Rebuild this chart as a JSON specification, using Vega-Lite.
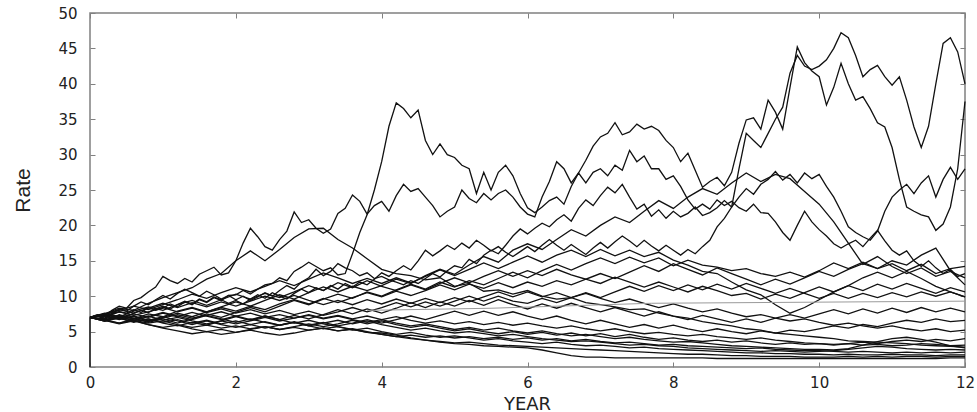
{
"$schema": "https://vega.github.io/schema/vega-lite/v6.json",
"width": 875,
"height": 354,
"autosize": {"type": "none"},
"padding": {"left": 90, "top": 13, "right": 12, "bottom": 45},
"background": "white",
"config": {
  "view": {"stroke": "#808080", "strokeWidth": 1.5},
  "axis": {"grid": false, "domain": false, "tickColor": "#808080", "tickWidth": 1, "labelFont": "DejaVu Sans", "labelFontSize": 15, "labelColor": "#222222", "titleColor": "#222222", "titleFontWeight": "normal"}
},
"layer": [
  {
    "data": {"values": [
      {"p": "s0", "t": [0, 0], "v": [0, 7]},
      {"p": "l1", "t": [0,0.2,0.4,0.6,0.8,1,1.2,1.4,1.6,1.8,2,2.2,2.4,2.6,2.8,3,3.2,3.4,3.6,3.8,4,4.2,4.4,4.6,4.8,5,5.2,5.4,5.6,5.8,6,6.2,6.4,6.6,6.8,7,7.2,7.4,7.6,7.8,8,8.2,8.4,8.6,8.8,9,9.2,9.4,9.6,9.8,10,10.2,10.4,10.6,10.8,11,11.2,11.4,11.6,11.8,12],
       "v": [7,6.5,6.9,6.3,6.8, 6.2,5.8,6.3,5.9,6.5, 7.1,6.6,7.2,6.7,7.3, 6.8,7.4,8.1,7.5,8.2, 7.6,8.3,9.1,8.4,9.2, 8.6,9.4,8.7,9.5,8.8, 8.2,8.9,8.3,9,8.4, 7.8,8.4,7.8,7.2,7.8, 7.2,6.7,7.3,6.8,6.3, 6.8,6.3,6.9,7.4,6.9, 7.5,8.1,7.5,8.2,7.6, 8.3,7.7,8.4,7.8,8.3, 7.8]},
      {"p": "l2", "t": [0,0.2,0.4,0.6,0.8,1,1.2,1.4,1.6,1.8,2,2.2,2.4,2.6,2.8,3,3.2,3.4,3.6,3.8,4,4.2,4.4,4.6,4.8,5,5.2,5.4,5.6,5.8,6,6.2,6.4,6.6,6.8,7,7.2,7.4,7.6,7.8,8,8.2,8.4,8.6,8.8,9,9.2,9.4,9.6,9.8,10,10.2,10.4,10.6,10.8,11,11.2,11.4,11.6,11.8,12],
       "v": [7,7.3,6.8,7.2,6.6, 7.1,6.5,6,6.5,6, 5.6,6,5.5,5.9,6.4, 5.9,6.3,5.8,6.2,6.7, 6.2,6.7,7.2,6.7,7.3, 7.9,7.3,7.9,7.3,7.8, 7.2,6.7,7.2,6.6,6.1, 6.6,6.1,5.6,6,5.5, 5.9,5.4,5,5.4,5, 4.7,5.1,4.8,5.2,5, 5.4,5.8,5.5,6,5.7, 6.2,6.6,6.3,6.8,6.4, 6.6]},
      {"p": "l3", "t": [0,0.2,0.4,0.6,0.8,1,1.2,1.4,1.6,1.8,2,2.2,2.4,2.6,2.8,3,3.2,3.4,3.6,3.8,4,4.2,4.4,4.6,4.8,5,5.2,5.4,5.6,5.8,6,6.2,6.4,6.6,6.8,7,7.2,7.4,7.6,7.8,8,8.2,8.4,8.6,8.8,9,9.2,9.4,9.6,9.8,10,10.2,10.4,10.6,10.8,11,11.2,11.4,11.6,11.8,12],
       "v": [7,6.6,6.2,6.6,6, 5.6,5.9,5.4,5,5.3, 4.9,5.2,4.8,4.5,4.8, 5.2,5.5,5.1,5.3,4.9, 4.8,4.5,4.1,3.8,3.5, 3.3,3.2,3,2.9,2.8, 2.7,2.4,2,1.6,1.4, 1.4,1.3,1.3,1.3,1.3, 1.3,1.3,1.3,1.2,1.2, 1.2,1.2,1.2,1.2,1.2, 1.2,1.2,1.2,1.2,1.2, 1.2,1.2,1.2,1.2,1.3, 1.3]},
      {"p": "l4", "t": [0,0.2,0.4,0.6,0.8,1,1.2,1.4,1.6,1.8,2,2.2,2.4,2.6,2.8,3,3.2,3.4,3.6,3.8,4,4.2,4.4,4.6,4.8,5,5.2,5.4,5.6,5.8,6,6.2,6.4,6.6,6.8,7,7.2,7.4,7.6,7.8,8,8.2,8.4,8.6,8.8,9,9.2,9.4,9.6,9.8,10,10.2,10.4,10.6,10.8,11,11.2,11.4,11.6,11.8,12],
       "v": [7,7.4,6.9,6.4,6.8, 6.3,6.7,6.2,6.6,6.1, 6.5,6,6.4,5.9,6.3, 5.8,5.4,5.7,5.2,5.5, 5,4.6,4.9,4.5,4.2, 4.4,4.1,3.8,4,3.7, 3.5,3.3,3.5,3.2,3, 3.1,2.9,2.7,2.8,2.6, 2.5,2.4,2.3,2.2,2.1, 2,2,1.9,1.9,1.8, 1.8,1.7,1.8,1.7,1.7, 1.8,1.7,1.7,1.6,1.7, 1.7]},
      {"p": "l5", "t": [0,0.2,0.4,0.6,0.8,1,1.2,1.4,1.6,1.8,2,2.2,2.4,2.6,2.8,3,3.2,3.4,3.6,3.8,4,4.2,4.4,4.6,4.8,5,5.2,5.4,5.6,5.8,6,6.2,6.4,6.6,6.8,7,7.2,7.4,7.6,7.8,8,8.2,8.4,8.6,8.8,9,9.2,9.4,9.6,9.8,10,10.2,10.4,10.6,10.8,11,11.2,11.4,11.6,11.8,12],
       "v": [7,6.5,7,7.5,7, 7.6,7.1,7.7,7.2,6.7, 7.2,6.7,7.2,6.7,6.2, 6.6,6.1,5.7,5.3,4.9, 4.6,4.3,4.5,4.2,4.4, 4.1,4.3,4,4.2,3.9, 4.1,3.8,4,3.7,3.9, 3.6,3.4,3.5,3.3,3.1, 3.2,3,2.9,2.8,2.7, 2.6,2.7,2.5,2.4,2.3, 2.3,2.2,2.1,2.2,2.1, 2,2.1,2,2.1,2, 2.1]},
      {"p": "l6", "t": [0,0.2,0.4,0.6,0.8,1,1.2,1.4,1.6,1.8,2,2.2,2.4,2.6,2.8,3,3.2,3.4,3.6,3.8,4,4.2,4.4,4.6,4.8,5,5.2,5.4,5.6,5.8,6,6.2,6.4,6.6,6.8,7,7.2,7.4,7.6,7.8,8,8.2,8.4,8.6,8.8,9,9.2,9.4,9.6,9.8,10,10.2,10.4,10.6,10.8,11,11.2,11.4,11.6,11.8,12],
       "v": [7,7.2,6.7,7.1,6.5, 6.9,7.4,6.9,7.3,7.8, 7.2,7.6,7,7.4,6.9, 7.3,6.8,7.2,6.7,6.3, 6.7,6.2,5.8,6.1,5.7, 5.3,5.6,5.2,5.5,5.1, 4.8,5.1,4.7,4.4,4.6, 4.3,4,4.2,3.9,3.7, 3.5,3.6,3.4,3.2,3, 2.9,2.8,2.7,2.6,2.5, 2.5,2.4,2.6,3.1,3.6, 4,4.2,3.9,3.5,3, 2.7]},
      {"p": "l7", "t": [0,0.2,0.4,0.6,0.8,1,1.2,1.4,1.6,1.8,2,2.2,2.4,2.6,2.8,3,3.2,3.4,3.6,3.8,4,4.2,4.4,4.6,4.8,5,5.2,5.4,5.6,5.8,6,6.2,6.4,6.6,6.8,7,7.2,7.4,7.6,7.8,8,8.2,8.4,8.6,8.8,9,9.2,9.4,9.6,9.8,10,10.2,10.4,10.6,10.8,11,11.2,11.4,11.6,11.8,12],
       "v": [7,6.8,7.3,6.8,7.2, 6.6,7,6.5,6.1,6.5, 6.1,6.5,7,6.5,6.9, 7.4,6.9,7.3,6.8,7.2, 6.7,7.1,6.6,6.2,6.5, 6.1,6.4,6,6.3,5.9, 6.2,5.8,5.5,5.8,5.4, 5.1,5.4,5,4.7,4.9, 4.6,4.4,4.6,4.3,4.1, 3.9,4.1,3.8,3.6,3.4, 3.3,3.2,3.3,3.1,3.2, 3,3.1,3.3,3.2,3, 3.1]},
      {"p": "l8", "t": [0,0.2,0.4,0.6,0.8,1,1.2,1.4,1.6,1.8,2,2.2,2.4,2.6,2.8,3,3.2,3.4,3.6,3.8,4,4.2,4.4,4.6,4.8,5,5.2,5.4,5.6,5.8,6,6.2,6.4,6.6,6.8,7,7.2,7.4,7.6,7.8,8,8.2,8.4,8.6,8.8,9,9.2,9.4,9.6,9.8,10,10.2,10.4,10.6,10.8,11,11.2,11.4,11.6,11.8,12],
       "v": [7,7.5,8.1,7.6,8.3, 9,8.4,9.1,8.5,9.2, 8.6,9.3,10,9.4,10.1, 9.4,8.8,9.4,8.8,9.5, 8.9,9.6,9,9.7,9.1, 9.8,9.2,9.9,10.6,9.9, 10.6,9.9,10.5,9.8,10.4, 9.7,9.1,9.6,9,8.4, 8.9,8.3,7.8,8.2,7.6, 7.1,7.4,6.9,6.5,6.8, 6.3,5.9,6.2,5.8,5.5, 5.8,5.4,5.1,5.4,5, 5.2]},
      {"p": "l9", "t": [0,0.2,0.4,0.6,0.8,1,1.2,1.4,1.6,1.8,2,2.2,2.4,2.6,2.8,3,3.2,3.4,3.6,3.8,4,4.2,4.4,4.6,4.8,5,5.2,5.4,5.6,5.8,6,6.2,6.4,6.6,6.8,7,7.2,7.4,7.6,7.8,8,8.2,8.4,8.6,8.8,9,9.2,9.4,9.6,9.8,10,10.2,10.4,10.6,10.8,11,11.2,11.4,11.6,11.8,12],
       "v": [7,6.6,6.1,6.5,6, 5.5,5.1,4.7,5,4.6, 4.9,5.3,5.7,5.3,5.7, 6.1,5.7,6.1,6.6,6.1, 6.5,6,5.6,5.9,5.5, 5.1,5.4,5,4.7,5, 4.6,4.9,4.5,4.8,4.4, 4.7,4.3,4.6,4.2,3.9, 4.1,3.8,3.6,3.8,3.5, 3.7,3.4,3.2,3.4,3.2, 3.3,3.1,3.3,3.5,3.3, 3.6,3.8,3.6,3.9,3.7, 4]},
      {"p": "l10", "t": [0,0.2,0.4,0.6,0.8,1,1.2,1.4,1.6,1.8,2,2.2,2.4,2.6,2.8,3,3.2,3.4,3.6,3.8,4,4.2,4.4,4.6,4.8,5,5.2,5.4,5.6,5.8,6,6.2,6.4,6.6,6.8,7,7.2,7.4,7.6,7.8,8,8.2,8.4,8.6,8.8,9,9.2,9.4,9.6,9.8,10,10.2,10.4,10.6,10.8,11,11.2,11.4,11.6,11.8,12],
       "v": [7,7.3,7.8,7.3,7.8, 8.4,7.8,8.3,7.7,8.2, 7.6,8.1,7.5,8,7.4, 7.9,7.3,7.8,8.4,7.8, 8.4,9.1,8.5,9.2,8.6, 9.3,10,9.3,10,9.3, 9,9.7,9.1,9.8,10.5, 9.8,10.6,11.4,10.7,11.5, 10.8,11.6,10.9,11.7,11, 11.8,11.1,10.4,11.1,10.4, 9.7,10.4,9.7,10.4,9.8, 10.5,9.9,10.6,10,10.6, 9.9]},
      {"p": "l11", "t": [0,0.2,0.4,0.6,0.8,1,1.2,1.4,1.6,1.8,2,2.2,2.4,2.6,2.8,3,3.2,3.4,3.6,3.8,4,4.2,4.4,4.6,4.8,5,5.2,5.4,5.6,5.8,6,6.2,6.4,6.6,6.8,7,7.2,7.4,7.6,7.8,8,8.2,8.4,8.6,8.8,9,9.2,9.4,9.6,9.8,10,10.2,10.4,10.6,10.8,11,11.2,11.4,11.6,11.8,12],
       "v": [7,6.7,7.1,6.6,6.2, 6.5,6,5.6,5.9,5.5, 5.8,5.4,5.7,5.3,5.6, 5.2,5.5,5.1,5.4,5, 4.6,4.3,4,3.8,3.6, 3.4,3.5,3.3,3.1,3, 2.9,2.8,2.7,2.6,2.5, 2.4,2.3,2.2,2.1,2, 1.9,1.8,1.8,1.7,1.6, 1.6,1.5,1.5,1.5,1.4, 1.4,1.4,1.5,1.4,1.5, 1.4,1.5,1.5,1.4,1.5, 1.5]},
      {"p": "l12", "t": [0,0.2,0.4,0.6,0.8,1,1.2,1.4,1.6,1.8,2,2.2,2.4,2.6,2.8,3,3.2,3.4,3.6,3.8,4,4.2,4.4,4.6,4.8,5,5.2,5.4,5.6,5.8,6,6.2,6.4,6.6,6.8,7,7.2,7.4,7.6,7.8,8,8.2,8.4,8.6,8.8,9,9.2,9.4,9.6,9.8,10,10.2,10.4,10.6,10.8,11,11.2,11.4,11.6,11.8,12],
       "v": [7,7.5,7,6.6,7.1, 7.7,7.2,6.7,7.3,6.8, 6.3,6.8,6.3,5.9,6.3, 5.8,6.2,6.6,6.1,6.5, 6,5.6,5.2,5.5,5.1, 4.8,5,4.7,4.4,4.6, 4.3,4,3.8,3.6,3.7, 3.5,3.3,3.1,3.2,3, 2.9,2.7,2.6,2.5,2.4, 2.3,2.2,2.3,2.2,2.1, 2.2,2.3,2.5,2.7,2.9, 2.8,2.6,2.5,2.4,2.5, 2.4]},
      {"p": "m1", "t": [0,0.2,0.4,0.6,0.8,1,1.2,1.4,1.6,1.8,2,2.2,2.4,2.6,2.8,3,3.2,3.4,3.6,3.8,4,4.2,4.4,4.6,4.8,5,5.2,5.4,5.6,5.8,6,6.2,6.4,6.6,6.8,7,7.2,7.4,7.6,7.8,8,8.2,8.4,8.6,8.8,9,9.2,9.4,9.6,9.8,10,10.2,10.4,10.6,10.8,11,11.2,11.4,11.6,11.8,12],
       "v": [7,7.6,7.1,7.9,8.5, 8,8.8,9.4,8.7,9.5, 10.3,9.6,10.4,9.8,10.6, 11.5,10.8,11.9,11.2,12.2, 11.4,10.8,11.6,10.9,11.8, 12.6,11.9,12.8,13.6,12.8, 13.6,12.9,13.8,13,12.4, 13.2,12.5,13.4,14.3,13.5, 14.6,13.8,13,14,13.2, 12.4,11.6,12.4,11.7,12.6, 13.5,12.8,13.8,14.6,13.9, 15,14.4,15.8,16.8,13.6, 11.6]},
      {"p": "m2", "t": [0,0.2,0.4,0.6,0.8,1,1.2,1.4,1.6,1.8,2,2.2,2.4,2.6,2.8,3,3.2,3.4,3.6,3.8,4,4.2,4.4,4.6,4.8,5,5.2,5.4,5.6,5.8,6,6.2,6.4,6.6,6.8,7,7.2,7.4,7.6,7.8,8,8.2,8.4,8.6,8.8,9,9.2,9.4,9.6,9.8,10,10.2,10.4,10.6,10.8,11,11.2,11.4,11.6,11.8,12],
       "v": [7,6.6,7.3,6.9,6.3, 6.8,6.2,6.8,7.5,7, 7.7,8.4,7.8,8.6,9.4, 8.8,9.6,10.3,9.7,10.6, 10,10.9,11.7,11,12, 11.3,12.2,11.6,12.5,13.4, 12.6,13.6,14.5,13.7,14.6, 15.4,14.6,15.5,14.7,15.4, 14.3,15.1,14.4,14.1,13.6, 13.9,13.2,12.8,13.4,12.7, 13.6,14.7,13.9,14.8,13.9, 14.6,13.6,14.5,13.2,13.9, 14.2]},
      {"p": "m3", "t": [0,0.2,0.4,0.6,0.8,1,1.2,1.4,1.6,1.8,2,2.2,2.4,2.6,2.8,3,3.2,3.4,3.6,3.8,4,4.2,4.4,4.6,4.8,5,5.2,5.4,5.6,5.8,6,6.2,6.4,6.6,6.8,7,7.2,7.4,7.6,7.8,8,8.2,8.4,8.6,8.8,9,9.2,9.4,9.6,9.8,10,10.2,10.4,10.6,10.8,11,11.2,11.4,11.6,11.8,12],
       "v": [7,7.5,8.3,8,9, 9.8,10.5,11.2,12.4,13.2, 15,16.4,15,16.6,18.3, 19.5,19.6,18,16.8,15.3, 13.8,13.2,12.9,12.3,12.6, 11.4,11.8,10.7,10.9,10.3, 10.8,10,9.6,9.8,9.1, 8.8,8.5,8.1,8.2,7.6, 7.2,6.9,6.4,6.1,5.8, 5.4,5.2,4.8,4.6,4.4, 4.2,4,3.7,3.6,3.5, 3.4,3.3,3.1,3,2.9, 2.8]},
      {"p": "m4", "t": [0,0.2,0.4,0.6,0.8,1,1.2,1.4,1.6,1.8,2,2.2,2.4,2.6,2.8,3,3.2,3.4,3.6,3.8,4,4.2,4.4,4.6,4.8,5,5.2,5.4,5.6,5.8,6,6.2,6.4,6.6,6.8,7,7.2,7.4,7.6,7.8,8,8.2,8.4,8.6,8.8,9,9.2,9.4,9.6,9.8,10,10.2,10.4,10.6,10.8,11,11.2,11.4,11.6,11.8,12],
       "v": [7,6.7,6.2,6.8,6.4, 7,7.6,7.1,7.8,8.4, 7.9,8.6,8.1,8.9,9.5, 8.9,9.7,9.1,9.8,10.5, 9.9,10.7,10.1,10.8,11.6, 10.9,11.7,11.1,11.9,11.2, 12,11.4,12.2,11.6,12.4, 11.8,12.7,12,11.3,12, 11.3,10.6,11.4,10.8,10.1, 10.4,9.6,10.3,9.7,10.5, 11.3,10.6,11.5,10.8,11.7, 11,11.8,11.1,10.4,11.2, 10.6]},
      {"p": "m5", "t": [0,0.2,0.4,0.6,0.8,1,1.2,1.4,1.6,1.8,2,2.2,2.4,2.6,2.8,3,3.2,3.4,3.6,3.8,4,4.2,4.4,4.6,4.8,5,5.2,5.4,5.6,5.8,6,6.2,6.4,6.6,6.8,7,7.2,7.4,7.6,7.8,8,8.2,8.4,8.6,8.8,9,9.2,9.4,9.6,9.8,10,10.2,10.4,10.6,10.8,11,11.2,11.4,11.6,11.8,12],
       "v": [7,7.4,8,8.6,8.1, 8.8,9.5,10.3,9.7,10.5, 11.2,10.6,11.4,12.2,11.5, 12.4,13.3,12.6,11.8,12.5, 11.8,12.6,11.9,12.8,13.7, 12.9,13.8,14.7,13.9,14.8, 15.7,14.8,15.8,16.5,15.6, 16.6,15.7,16.5,15.6,16.2, 15.1,14.4,13.5,13.2,12, 10.9,10.2,8.8,7.6,8.4, 9.5,10.6,11.5,12.6,13.4, 12.6,13.5,12.5,11.4,10.6, 9.9]},
      {"p": "k", "t": [0,0.2,0.4,0.6,0.8,1,1.2,1.4,1.6,1.8,2,2.2,2.4,2.6,2.8,3,3.2,3.4,3.6,3.8,4,4.2,4.4,4.6,4.8,5,5.2,5.4,5.6,5.8,6,6.2,6.4,6.6,6.8,7,7.2,7.4,7.6,7.8,8,8.2,8.4,8.6,8.8,9,9.2,9.4,9.6,9.8,10,10.2,10.4,10.6,10.8,11,11.2,11.4,11.6,11.8,12],
       "v": [7,6.5,7.2,6.8,7.5, 7.1,7.9,8.4,7.8,8.5, 9.2,8.6,9.4,10.2,9.6, 10.5,11.3,10.6,11.4,10.8, 11.5,12.4,11.8,12.9,13.8, 13.1,14.4,15.6,14.8,16.5, 17.4,16.6,18,19.4,18.5, 20,21.2,20.4,22,23.5, 22.4,24,25.2,24.4,26, 27.4,26.2,27.2,26.6,24.8, 23,20.5,17.5,14.5,15.6, 14.2,13.2,14,12.8,13.5, 12.6]},
      {"p": "a", "t": [0,0.1,0.2,0.3,0.4,0.5,0.6,0.7,0.8,0.9,1,1.1,1.2,1.3,1.4,1.5,1.6,1.7,1.8,1.9,2,2.1,2.2,2.3,2.4,2.5,2.6,2.7,2.8,2.9,3,3.1,3.2,3.3,3.4,3.5,3.6,3.7,3.8,3.9,4,4.1,4.2,4.3,4.4,4.5,4.6,4.7,4.8,4.9,5,5.1,5.2,5.3,5.4,5.5,5.6,5.7,5.8,5.9,6,6.1,6.2,6.3,6.4,6.5,6.6,6.7,6.8,6.9,7,7.1,7.2,7.3,7.4,7.5,7.6,7.7,7.8,7.9,8,8.1,8.2,8.3,8.4,8.5,8.6,8.7,8.8,8.9,9,9.1,9.2,9.3,9.4,9.5,9.6,9.7,9.8,9.9,10,10.1,10.2,10.3,10.4,10.5,10.6,10.7,10.8,10.9,11,11.1,11.2,11.3,11.4,11.5,11.6,11.7,11.8,11.9,12],
       "v": [7,7.3,6.9,7.4,7.8,7.6,8.1,7.7,8.4,8, 8.3,8.9,8.5,9.2,8.8,9.5,9.1,9.8,9.4,10.1, 10.2,10.8,10.3,11,11.6,11.8,12.6,12.2,13.5,14.1, 14.8,14.2,13.6,14,13,13.2,16,19,21.5,25, 29,34,37.3,36.5,35.2,36.3,32,30,31.5,30, 29.6,28.5,28,24.5,27.5,25,27.5,28.5,27,24.5, 22.5,21.8,22.6,23.5,24,23,25.5,27.4,26,27.5, 28,27,28.5,27.8,30.6,29,29.8,28,28,26.5, 27,25.5,23.6,22.3,23,22.3,23.6,22.8,23.4,22.5, 22,23,21.8,21.7,20.5,19,17.9,20,22,20.5, 19.4,18.5,17.4,16.8,17.4,17.9,17,18.2,19.3,17.8, 16.5,15.8,16.4,15,14.2,15,14,13.2,13.8,12.8, 13.2]},
      {"p": "b", "t": [0,0.1,0.2,0.3,0.4,0.5,0.6,0.7,0.8,0.9,1,1.1,1.2,1.3,1.4,1.5,1.6,1.7,1.8,1.9,2,2.1,2.2,2.3,2.4,2.5,2.6,2.7,2.8,2.9,3,3.1,3.2,3.3,3.4,3.5,3.6,3.7,3.8,3.9,4,4.1,4.2,4.3,4.4,4.5,4.6,4.7,4.8,4.9,5,5.1,5.2,5.3,5.4,5.5,5.6,5.7,5.8,5.9,6,6.1,6.2,6.3,6.4,6.5,6.6,6.7,6.8,6.9,7,7.1,7.2,7.3,7.4,7.5,7.6,7.7,7.8,7.9,8,8.1,8.2,8.3,8.4,8.5,8.6,8.7,8.8,8.9,9,9.1,9.2,9.3,9.4,9.5,9.6,9.7,9.8,9.9,10,10.1,10.2,10.3,10.4,10.5,10.6,10.7,10.8,10.9,11,11.1,11.2,11.3,11.4,11.5,11.6,11.7,11.8,11.9,12],
       "v": [7,7.4,7.1,8,8.6,8.3,9.4,9.8,10.6,11.3, 12.8,12.2,11.8,12.5,12,13.1,13.6,14.1,13,13.3, 15,17.5,19.6,18.4,17,16.5,18,19.2,21.9,20.4, 20.8,19.6,18.9,19.5,21.7,22.4,24.3,23.4,21.6,22.8, 23.4,22,24.2,25.8,24.8,25.2,24,22.8,21.2,22, 22.6,25,23.8,23.2,24.5,23.6,24.5,25,24,22.6, 21.6,21.2,24,26.2,29,28,26,27.4,29.2,31.2, 32.5,33,34.5,32.8,33.2,34.3,33.6,34,33.4,32, 31,29,30.2,27.8,25.4,26.2,26.8,25.6,27.5,31.6, 34.9,35.2,33.6,37.7,36,33.6,39.5,45.2,43,41.8, 41,37,39.5,42.9,40,37.7,38.2,36.5,34.5,33.9, 31,26.5,22.6,22,21.5,21.2,19.3,20.2,22.6,28, 37.5]},
      {"p": "c", "t": [0,0.1,0.2,0.3,0.4,0.5,0.6,0.7,0.8,0.9,1,1.1,1.2,1.3,1.4,1.5,1.6,1.7,1.8,1.9,2,2.1,2.2,2.3,2.4,2.5,2.6,2.7,2.8,2.9,3,3.1,3.2,3.3,3.4,3.5,3.6,3.7,3.8,3.9,4,4.1,4.2,4.3,4.4,4.5,4.6,4.7,4.8,4.9,5,5.1,5.2,5.3,5.4,5.5,5.6,5.7,5.8,5.9,6,6.1,6.2,6.3,6.4,6.5,6.6,6.7,6.8,6.9,7,7.1,7.2,7.3,7.4,7.5,7.6,7.7,7.8,7.9,8,8.1,8.2,8.3,8.4,8.5,8.6,8.7,8.8,8.9,9,9.1,9.2,9.3,9.4,9.5,9.6,9.7,9.8,9.9,10,10.1,10.2,10.3,10.4,10.5,10.6,10.7,10.8,10.9,11,11.1,11.2,11.3,11.4,11.5,11.6,11.7,11.8,11.9,12],
       "v": [7,6.8,7.2,6.9,7.4,7.1,7.6,8,7.7,8.2, 8.6,8.2,8.8,9.3,8.9,9.6,9.2,9.9,9.5,9, 9.4,8.9,9.6,10.2,9.7,10.5,10,9.6,10.4,11, 10.5,11.2,10.8,11.5,11,11.8,11.3,12,11.6,12.4, 13.3,12.8,13.6,14.3,13.7,15,16.5,15.7,16.4,17.2, 16.6,17.5,16.8,17.9,17.2,16.4,17,16.2,15.6,16.3, 17,16.3,17.2,18,17.2,16.5,17.3,16.6,15.9,16.8, 17.6,16.8,17.7,18.5,17.8,17,17.9,17.1,16.4,17.2, 16.5,15.8,16.6,16,17,17.9,19.8,21,22.6,28, 33,32,31,33,35,36.7,41.5,44,42.5,42, 42.5,43.4,45,47.2,46.5,44,41,42,42.6,41, 39.8,41,37.7,33.9,31,34,40,45.7,46.5,44.5, 40]},
      {"p": "f", "t": [0,0.1,0.2,0.3,0.4,0.5,0.6,0.7,0.8,0.9,1,1.1,1.2,1.3,1.4,1.5,1.6,1.7,1.8,1.9,2,2.1,2.2,2.3,2.4,2.5,2.6,2.7,2.8,2.9,3,3.1,3.2,3.3,3.4,3.5,3.6,3.7,3.8,3.9,4,4.1,4.2,4.3,4.4,4.5,4.6,4.7,4.8,4.9,5,5.1,5.2,5.3,5.4,5.5,5.6,5.7,5.8,5.9,6,6.1,6.2,6.3,6.4,6.5,6.6,6.7,6.8,6.9,7,7.1,7.2,7.3,7.4,7.5,7.6,7.7,7.8,7.9,8,8.1,8.2,8.3,8.4,8.5,8.6,8.7,8.8,8.9,9,9.1,9.2,9.3,9.4,9.5,9.6,9.7,9.8,9.9,10,10.1,10.2,10.3,10.4,10.5,10.6,10.7,10.8,10.9,11,11.1,11.2,11.3,11.4,11.5,11.6,11.7,11.8,11.9,12],
       "v": [7,7.3,6.8,7.5,8.2,7.9,8.6,9.2,8.8,9.5, 10.1,9.6,10.4,11,10.5,10,10.7,10.2,9.6,10.1, 9.5,10,9.4,9.9,10.5,10,10.8,11.5,11,12, 12.6,13.8,12.9,13.5,14.6,14,13.6,12.9,13.3,12.5, 12.8,12.3,12,11.6,12.2,11.8,12.5,13.2,12.7,13.6, 14.3,14,15.2,14.6,15.8,16.5,16,17.2,18.5,19.5, 18.8,19.6,20.3,19.8,20.8,21.5,20.6,22.4,23.6,22.8, 24.2,25.4,24.6,25.8,24,22.3,23,21.3,22.2,21, 22,21.2,21.7,22.6,21.4,21.8,22.5,23.5,22.6,24, 25.2,24.4,25.8,26.5,27.6,26.4,27.2,26,27.4,26.6, 27.2,25.5,24,22,19.8,19,18.4,17.9,19.2,22, 24,25,25.8,24.5,26,27,24,26.5,28.2,26.5, 28]}
    ]},
    "transform": [{"flatten": ["t", "v"]}],
    "mark": {"type": "line", "color": "#111111", "strokeWidth": 1.3, "interpolate": "linear"},
    "encoding": {
      "x": {"field": "t", "type": "quantitative", "scale": {"domain": [0, 12], "nice": false, "zero": false},
            "axis": {"orient": "bottom", "values": [0,2,4,6,8,10,12], "tickSize": -5, "labelPadding": 13, "labelFlush": false,
                     "title": "YEAR", "titleFont": "DejaVu Sans", "titleFontSize": 18, "titleX": 437, "titleY": 37, "titleBaseline": "middle", "titleAlign": "center"}},
      "y": {"field": "v", "type": "quantitative", "scale": {"domain": [0, 50], "nice": false},
            "axis": {"orient": "left", "values": [0,5,10,15,20,25,30,35,40,45,50], "tickSize": -5, "labelPadding": 18, "labelFlush": false,
                     "title": "Rate", "titleFont": "Liberation Sans", "titleFontSize": 21, "titleAngle": -90, "titleX": -67, "titleY": 177, "titleAlign": "center", "titleBaseline": "middle"}},
      "detail": {"field": "p", "type": "nominal"}
    }
  },
  {
    "data": {"values": [
      {"t": 3.8, "v": 8.0},
      {"t": 5.5, "v": 8.3},
      {"t": 7.7, "v": 9.0},
      {"t": 12, "v": 9.3}
    ]},
    "mark": {"type": "line", "color": "#9a9a9a", "strokeWidth": 1},
    "encoding": {
      "x": {"field": "t", "type": "quantitative", "scale": {"domain": [0, 12], "nice": false, "zero": false},
            "axis": {"orient": "top", "values": [0,2,4,6,8,10,12], "tickSize": -5, "labels": false, "title": null}},
      "y": {"field": "v", "type": "quantitative", "scale": {"domain": [0, 50], "nice": false},
            "axis": {"orient": "right", "values": [0,5,10,15,20,25,30,35,40,45,50], "tickSize": -5, "labels": false, "title": null}}
    }
  }
],
"resolve": {"axis": {"x": "independent", "y": "independent"}}
}
